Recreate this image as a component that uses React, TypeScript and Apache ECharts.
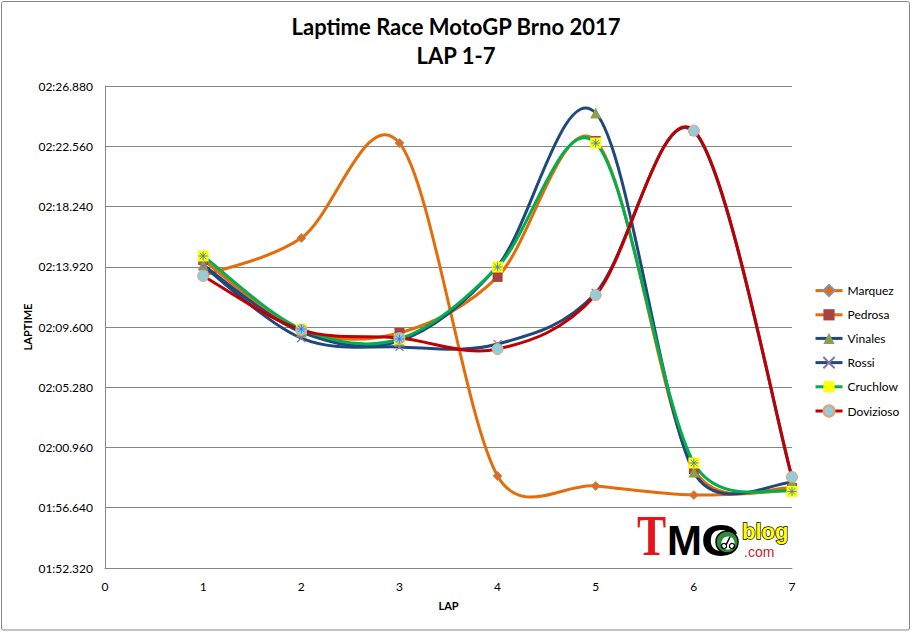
import React, { useEffect, useRef } from "react";
import * as echarts from "echarts";

// ---- data ----
const laps = [1, 2, 3, 4, 5, 6, 7];
const riders = ["Marquez", "Pedrosa", "Vinales", "Rossi", "Cruchlow", "Dovizioso"];
// lap times in seconds
const marquez = [133.3, 135.98, 142.79, 118.92, 118.2, 117.55, 117.9];
const pedrosa = [134.4, 129.39, 129.17, 133.19, 142.94, 119.42, 118.06];
const vinales = [134.05, 129.24, 128.6, 133.97, 144.94, 119.2, 118.45];
const rossi = [133.97, 128.81, 128.17, 128.38, 132.04, 143.62, 118.8];
const cruchlow = [134.69, 129.46, 128.74, 133.9, 142.79, 119.85, 117.81];
const dovizioso = [133.26, 129.39, 128.81, 128.02, 131.89, 143.68, 118.85];
const yMin = 112.32; // 01:52.320
const yMax = 146.88; // 02:26.880
const yStep = 4.32; // 00:04.320
const xTickLabels = ["0", "1", "2", "3", "4", "5", "6", "7"];

const FONT = "Lato, 'Noto Sans', sans-serif";
const TENSION = 1 / 6;

function fmtTime(v: number): string {
  const ms = Math.round(v * 1000);
  const m = Math.floor(ms / 60000);
  const s = ((ms % 60000) / 1000).toFixed(3).padStart(6, "0");
  return String(m).padStart(2, "0") + ":" + s;
}

const pts = (vals: number[]) => laps.map((l, i) => [l, vals[i]]);

export default function App() {
  const ref = useRef<HTMLDivElement>(null);
  useEffect(() => {
    if (!ref.current) return;
    const chart = echarts.init(ref.current, null, { renderer: "svg" });

    const markerSeries = (name: string, vals: number[], symbol: string, size: number, itemStyle: any) => ({
      name,
      type: "line",
      data: pts(vals),
      symbol,
      symbolSize: size,
      showSymbol: true,
      lineStyle: { opacity: 0, width: 3 },
      itemStyle,
      z: 3,
      emphasis: { disabled: true },
    });

    // Excel-like smoothed curve (Catmull-Rom 1/6, control arm limited to half segment),
    // computed in pixel space from the axis scale (api.coord)
    const curveSeries = (name: string, vals: number[], color: string) => ({
      name: name + " curve",
      type: "custom",
      coordinateSystem: "cartesian2d",
      data: pts(vals),
      encode: { x: 0, y: 1 },
      silent: true,
      z: 1,
      renderItem: (params: any, api: any) => {
        if (params.dataIndex !== 0) return null;
        const p = vals.map((v, i) => api.coord([laps[i], v]));
        const n = p.length;
        const arm = (a: number[], b: number[], seg: number) => {
          let vx = (b[0] - a[0]) * TENSION;
          let vy = (b[1] - a[1]) * TENSION;
          const len = Math.hypot(vx, vy);
          if (len > seg / 2 && len > 0) {
            const k = seg / 2 / len;
            vx *= k;
            vy *= k;
          }
          return [vx, vy];
        };
        let d = `M${p[0][0]},${p[0][1]}`;
        for (let i = 0; i < n - 1; i++) {
          const p0 = p[i - 1] || p[i];
          const p1 = p[i];
          const p2 = p[i + 1];
          const p3 = p[i + 2] || p[i + 1];
          const seg = Math.hypot(p2[0] - p1[0], p2[1] - p1[1]);
          const a1 = arm(p0, p2, seg);
          const a2 = arm(p1, p3, seg);
          d += ` C${p1[0] + a1[0]},${p1[1] + a1[1]} ${p2[0] - a2[0]},${p2[1] - a2[1]} ${p2[0]},${p2[1]}`;
        }
        return {
          type: "path",
          shape: { pathData: d },
          style: { fill: "none", stroke: color, lineWidth: 3, lineJoin: "round", lineCap: "round" },
        };
      },
    });

    const lineColors: Record<string, string> = {
      Marquez: "#E46C0A",
      Pedrosa: "#E46C0A",
      Vinales: "#1F497D",
      Rossi: "#1F497D",
      Cruchlow: "#00B050",
      Dovizioso: "#C00000",
    };
    const values: Record<string, number[]> = {
      Marquez: marquez,
      Pedrosa: pedrosa,
      Vinales: vinales,
      Rossi: rossi,
      Cruchlow: cruchlow,
      Dovizioso: dovizioso,
    };

    const option: any = {
      animation: false,
      backgroundColor: "#ffffff",
      textStyle: { fontFamily: FONT },
      title: {
        text: "Laptime Race MotoGP Brno 2017\nLAP 1-7",
        left: "center",
        top: 12,
        padding: 0,
        textStyle: { fontFamily: FONT, fontSize: 22, fontWeight: "bold", color: "#000", lineHeight: 29 },
      },
      grid: { left: 105, right: 120, top: 86, bottom: 64, containLabel: false },
      legend: {
        orient: "vertical",
        left: 814,
        top: 284,
        padding: 0,
        itemWidth: 27,
        itemHeight: 14,
        itemGap: 11.6,
        data: riders.map((r) => ({ name: r, lineStyle: { color: lineColors[r], width: 3, opacity: 1 } })),
        textStyle: { fontFamily: FONT, fontSize: 12, color: "#000" },
      },
      xAxis: {
        type: "value",
        min: 0,
        max: 7,
        interval: 1,
        name: "LAP",
        nameLocation: "middle",
        nameGap: 32,
        nameMoveOverlap: false,
        nameTextStyle: { fontFamily: FONT, fontSize: 11, fontWeight: "bold", color: "#000" },
        axisLine: { show: true, lineStyle: { color: "#868686", width: 1 } },
        axisTick: { show: false },
        splitLine: { show: false },
        axisLabel: {
          margin: 12,
          fontFamily: FONT,
          fontSize: 12,
          color: "#000",
          formatter: (v: number) => xTickLabels[Math.round(v)] ?? String(v),
        },
      },
      yAxis: {
        type: "value",
        min: yMin,
        max: yMax,
        interval: yStep,
        name: "LAPTIME",
        nameLocation: "middle",
        nameRotate: 90,
        nameGap: 72,
        nameMoveOverlap: false,
        nameTextStyle: { fontFamily: FONT, fontSize: 11, fontWeight: "bold", color: "#000" },
        axisLine: { show: true, lineStyle: { color: "#868686", width: 1 } },
        axisTick: { show: false },
        splitLine: { show: true, lineStyle: { color: "#868686", width: 1 } },
        axisLabel: {
          margin: 12,
          fontFamily: FONT,
          fontSize: 12,
          color: "#000",
          formatter: (v: number) => fmtTime(v),
        },
      },
      series: [
        ...riders.map((r) => curveSeries(r, values[r], lineColors[r])),
        markerSeries("Marquez", marquez, "diamond", 9, { color: "#E46C0A", borderColor: "#8A8FA8", borderWidth: 0.8 }),
        markerSeries("Pedrosa", pedrosa, "rect", 10, { color: "#A8433F" }),
        markerSeries("Vinales", vinales, "triangle", 11, { color: "#8BA04E" }),
        markerSeries("Rossi", rossi, "path://M0,0L10,10M10,0L0,10", 8, {
          color: "rgba(0,0,0,0)",
          borderColor: "#8872B0",
          borderWidth: 1.2,
        }),
        markerSeries("Cruchlow", cruchlow, "rect", 11, { color: "#FFFF00" }),
        markerSeries("Dovizioso", dovizioso, "circle", 11, { color: "#93CDDD", borderColor: "#E9A070", borderWidth: 1 }),
        {
          name: "Cruchlow star",
          type: "scatter",
          data: pts(cruchlow),
          symbol: "path://M5,0L5,10M0,5L10,5M1.5,1.5L8.5,8.5M8.5,1.5L1.5,8.5",
          symbolSize: 9,
          itemStyle: { color: "rgba(0,0,0,0)", borderColor: "#2F6FD0", borderWidth: 1 },
          z: 4,
          silent: true,
        },
      ],
      graphic: [
        {
          type: "rect",
          shape: { x: 1.5, y: 1.5, width: 908, height: 628.5, r: 2 },
          style: { fill: "none", stroke: "#868686", lineWidth: 1 },
          silent: true,
        },
        {
          type: "group",
          silent: true,
          children: [
            {
              type: "text",
              x: 637,
              y: 536,
              scaleX: 0.78,
              style: { text: "T", font: "bold 56px 'Liberation Serif'", fill: "#E8141B", verticalAlign: "middle", lineHeight: 40 },
            },
            {
              type: "text",
              x: 667,
              y: 540,
              style: { text: "M", font: "bold 42px 'Liberation Sans'", fill: "#000", verticalAlign: "middle", lineHeight: 32 },
            },
            {
              type: "text",
              x: 701,
              y: 541,
              scaleX: 1.2,
              style: { text: "C", font: "bold 44px 'Liberation Sans'", fill: "#000", verticalAlign: "middle", lineHeight: 32 },
            },
            { type: "circle", shape: { cx: 727, cy: 542, r: 11 }, style: { fill: "#2E8B3A", stroke: "#000", lineWidth: 1.5 } },
            { type: "circle", shape: { cx: 728, cy: 543, r: 6.5 }, style: { fill: "#fff" } },
            { type: "circle", shape: { cx: 724, cy: 546, r: 2.6 }, style: { fill: "none", stroke: "#000", lineWidth: 1.3 } },
            { type: "circle", shape: { cx: 732, cy: 546, r: 2.6 }, style: { fill: "none", stroke: "#000", lineWidth: 1.3 } },
            { type: "line", shape: { x1: 726, y1: 545, x2: 730, y2: 537 }, style: { stroke: "#000", lineWidth: 1.5 } },
            {
              type: "text",
              x: 742,
              y: 531,
              style: { text: "blog", font: "bold 22px 'Liberation Sans'", fill: "#FFFF00", stroke: "#000", lineWidth: 1.4, verticalAlign: "middle", lineHeight: 20 },
            },
            {
              type: "text",
              x: 744,
              y: 551.5,
              style: { text: ".com", font: "14px 'Liberation Sans'", fill: "#C0272D", verticalAlign: "middle", lineHeight: 12 },
            },
          ],
        },
      ],
    };
    chart.setOption(option);
    return () => chart.dispose();
  }, []);
  return (
    <div
      ref={ref}
      style={{ position: "fixed", left: 0, top: 0, width: 912, height: 632, background: "#fff" }}
    />
  );
}
